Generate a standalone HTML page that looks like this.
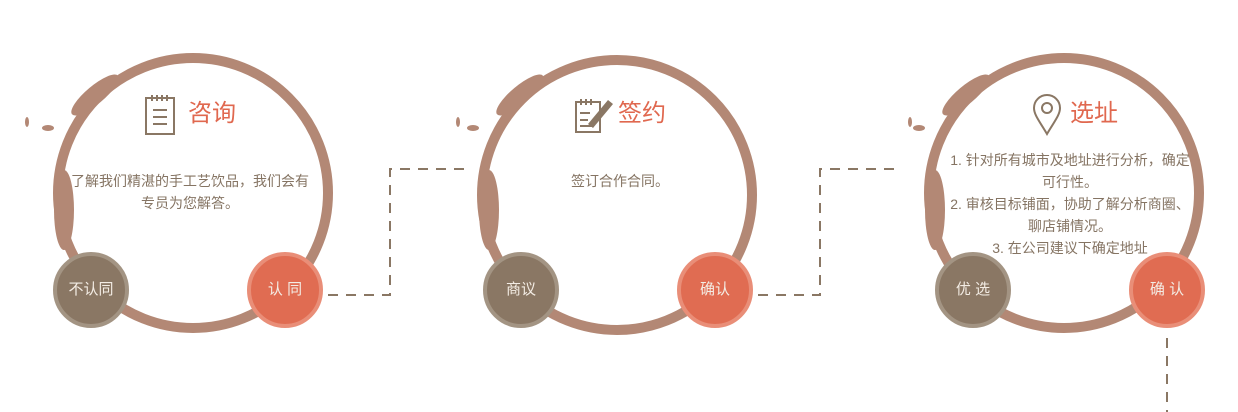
<!DOCTYPE html>
<html><head><meta charset="utf-8"><style>
html,body{margin:0;padding:0;background:#fff;}
body{width:1238px;height:412px;overflow:hidden;position:relative;font-family:"Liberation Sans","Noto Sans CJK SC",sans-serif;}
svg{position:absolute;left:0;top:0;}
.t{position:absolute;text-align:center;color:#857463;font-size:14px;line-height:22px;white-space:nowrap;}
.h{position:absolute;color:#e0684f;font-size:24px;line-height:30px;}
.b{position:absolute;width:68px;height:68px;border-radius:50%;color:#f3ece4;font-size:15px;line-height:68px;text-align:center;}
.br{background:#8a7764;border:4px solid #a39483;}
.rd{background:#e06c52;border:4px solid #e98e78;}
</style></head><body>
<svg width="1238" height="412" viewBox="0 0 1238 412">
<g fill="none" stroke="#b38875">
 <circle cx="193" cy="193" r="135" stroke-width="10"/>
 <circle cx="617" cy="195" r="135" stroke-width="10"/>
 <circle cx="1064" cy="193" r="135" stroke-width="10"/>
</g>
<g fill="#b38875">
 <ellipse cx="64" cy="210" rx="10" ry="40"/><ellipse cx="95" cy="95" rx="30" ry="9" transform="rotate(-40 95 95)"/>
 <ellipse cx="48" cy="128" rx="6" ry="3"/><ellipse cx="27" cy="122" rx="2" ry="5"/>
 <ellipse cx="489" cy="210" rx="10" ry="40"/><ellipse cx="520" cy="95" rx="30" ry="9" transform="rotate(-40 520 95)"/>
 <ellipse cx="473" cy="128" rx="6" ry="3"/><ellipse cx="458" cy="122" rx="2" ry="5"/>
 <ellipse cx="935" cy="210" rx="10" ry="40"/><ellipse cx="966" cy="95" rx="30" ry="9" transform="rotate(-40 966 95)"/>
 <ellipse cx="919" cy="128" rx="6" ry="3"/><ellipse cx="910" cy="122" rx="2" ry="5"/>
</g>
<g fill="none" stroke="#8a7764" stroke-width="2" stroke-dasharray="10 8">
 <path d="M328 295 H390 V169 H470"/>
 <path d="M758 295 H820 V169 H900"/>
 <path d="M1167 338 V412"/>
</g>
<g fill="none" stroke="#8a7764" stroke-width="2">
 <rect x="146" y="98" width="28" height="36"/>
 <path d="M152 95v6M157 95v6M162 95v6M167 95v6M153 110h14M153 117h14M153 124h14"/>
 <rect x="576" y="102" width="24" height="30"/>
 <path d="M581 99v6M586 99v6M591 99v6M580 113h10M580 120h8M580 126h12"/>
 <path d="M1047 134 C1040 122 1034 115 1034 108 a13 13 0 0 1 26 0 C1060 115 1054 122 1047 134Z"/>
 <circle cx="1047" cy="108" r="5"/>
</g>
<path d="M588 124 L608 100 L613 104 L593 128 Z" fill="#8a7764"/>
</svg>
<div class="h" style="left:188px;top:99px;">咨询</div>
<div class="h" style="left:618px;top:99px;">签约</div>
<div class="h" style="left:1070px;top:99px;">选址</div>
<div class="t" style="left:40px;width:300px;top:170px;">了解我们精湛的手工艺饮品，我们会有<br>专员为您解答。</div>
<div class="t" style="left:470px;width:300px;top:170px;">签订合作合同。</div>
<div class="t" style="left:930px;width:280px;top:149px;">1. 针对所有城市及地址进行分析，确定<br>可行性。<br>2. 审核目标铺面，协助了解分析商圈、<br>聊店铺情况。<br>3. 在公司建议下确定地址</div>
<div class="b br" style="left:53px;top:252px;">不认同</div>
<div class="b rd" style="left:247px;top:252px;">认 同</div>
<div class="b br" style="left:483px;top:252px;">商议</div>
<div class="b rd" style="left:677px;top:252px;">确认</div>
<div class="b br" style="left:935px;top:252px;">优 选</div>
<div class="b rd" style="left:1129px;top:252px;">确 认</div>
</body></html>
